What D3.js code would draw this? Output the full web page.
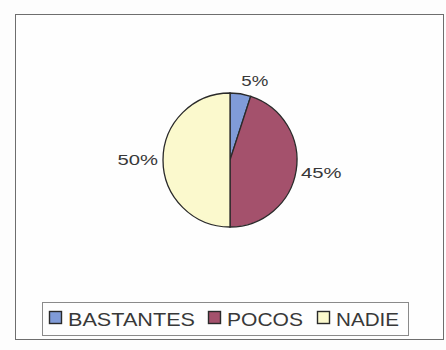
<!DOCTYPE html>
<html><head><meta charset="utf-8">
<script src="https://cdn.jsdelivr.net/npm/d3@7/dist/d3.min.js"></script>
<style>body{margin:0;background:#fff}svg{display:block}</style>
</head><body>
<script>
const categories = ["BASTANTES", "POCOS", "NADIE"];
const values = [5, 45, 50];
const colors = ["#809bd8", "#a4516c", "#fbf9cd"];

const W = 446, H = 350;
const FONT = "Liberation Sans, Arial, sans-serif";
const svg = d3.select("body").append("svg").attr("width", W).attr("height", H);
svg.append("rect").attr("width", W).attr("height", H).attr("fill", "#fdfdfd");
svg.append("rect").attr("x", 15.5).attr("y", 14.5).attr("width", 428).attr("height", 325)
  .attr("fill", "#fefefe").attr("stroke", "#6e6e6e").attr("stroke-width", 1);

const cx = 230, cy = 160, r = 67;
const pie = d3.pie().sort(null).value(d => d.v);
const arcs = pie(categories.map((c, i) => ({c, v: values[i], col: colors[i]})));
const arc = d3.arc().innerRadius(0).outerRadius(r);
const g = svg.append("g").attr("transform", `translate(${cx},${cy})`);
g.selectAll("path").data(arcs).join("path")
  .attr("d", arc).attr("fill", d => d.data.col)
  .attr("stroke", "#2a2a2a").attr("stroke-width", 1.3);

// labels placed just outside the slice, pushed by half the text box
const labelR = 72, lblH = 16;
g.selectAll("text").data(arcs).join("text")
  .each(function(d) {
    const a = (d.startAngle + d.endAngle) / 2;
    const txt = d.data.v + "%";
    const w = txt.length * 13.5;
    const x = Math.sin(a) * labelR + Math.sign(Math.sin(a)) * w / 2;
    const y = -Math.cos(a) * labelR - Math.cos(a) * lblH / 2;
    d3.select(this).attr("x", x).attr("y", y)
      .attr("textLength", w).attr("lengthAdjust", "spacingAndGlyphs").text(txt);
  })
  .attr("text-anchor", "middle").attr("dy", "0.36em")
  .attr("font-family", FONT).attr("font-size", 15)
  .attr("fill", "#383838");

// legend
const lg = svg.append("g");
lg.append("rect").attr("x", 42.5).attr("y", 302.5).attr("width", 366).attr("height", 33)
  .attr("fill", "#fefefe").attr("stroke", "#8a8a8a");
const lx = [49, 208, 317];
const tw = [127, 76, 63];
categories.forEach((c, i) => {
  lg.append("rect").attr("x", lx[i] + 0.5).attr("y", 311.5).attr("width", 12).attr("height", 12)
    .attr("fill", colors[i]).attr("stroke", "#2a2a2a").attr("stroke-width", 1.4);
  lg.append("text").attr("x", lx[i] + 19).attr("y", 326)
    .attr("textLength", tw[i]).attr("lengthAdjust", "spacingAndGlyphs")
    .attr("font-family", FONT).attr("font-size", 18)
    .attr("fill", "#383838").text(c);
});
</script>
</body></html>
